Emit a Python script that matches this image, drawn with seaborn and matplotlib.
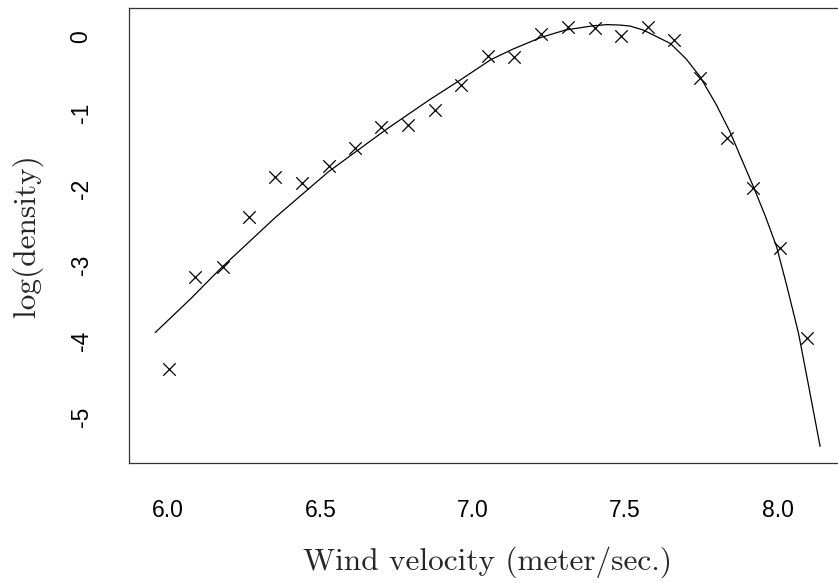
import numpy as np
import pandas as pd
import seaborn as sns
import matplotlib.pyplot as plt

wind_obs = [6.002, 6.090, 6.179, 6.265, 6.352, 6.440, 6.527, 6.612, 6.700, 6.787,
            6.875, 6.962, 7.050, 7.137, 7.225, 7.312, 7.400, 7.487, 7.575, 7.659,
            7.746, 7.834, 7.921, 8.009, 8.096]
logdens_obs = [-4.376, -3.166, -3.030, -2.376, -1.842, -1.920, -1.697, -1.469, -1.184, -1.162,
               -0.964, -0.636, -0.247, -0.262, 0.030, 0.130, 0.110, 0.013, 0.130, -0.043,
               -0.547, -1.329, -1.987, -2.784, -3.968]

# fitted curve
wind_fit = [5.958, 6.073, 6.177, 6.352, 6.527, 6.718, 6.858, 6.957, 7.060,
            7.130, 7.223, 7.305, 7.397, 7.440, 7.483, 7.516, 7.560, 7.648, 7.700,
            7.746, 7.800, 7.844, 7.880, 7.921, 7.960, 7.997, 8.030, 8.069, 8.100, 8.140]
logdens_fit = [-3.895, -3.455, -3.034, -2.380, -1.776, -1.215, -0.830, -0.575, -0.300,
               -0.166, -0.010, 0.090, 0.145, 0.160, 0.154, 0.141, 0.088, -0.087, -0.290,
               -0.526, -0.900, -1.250, -1.590, -1.974, -2.360, -2.763, -3.270, -3.903, -4.550, -5.395]

df_obs = pd.DataFrame({'wind': wind_obs, 'logdens': logdens_obs})
df_fit = pd.DataFrame({'wind': wind_fit, 'logdens': logdens_fit})

sns.set_style('white')
plt.rcParams['font.family'] = ['Liberation Sans', 'DejaVu Sans']

fig = plt.figure(figsize=(8.38, 5.83), dpi=100)
ax = fig.add_axes([0.1536, 0.2053, 0.8567, 0.7818])

sns.lineplot(data=df_fit, x='wind', y='logdens', ax=ax, color='black', linewidth=0.9,
             sort=False)
sns.scatterplot(data=df_obs, x='wind', y='logdens', ax=ax, marker='x', color='black',
                s=80, linewidth=0.9)

ax.set_xlim(5.871, 8.227)
ax.set_ylim(-5.617, 0.385)
ax.set_xticks([6.0, 6.5, 7.0, 7.5, 8.0])
ax.set_xticklabels(['6.0', '6.5', '7.0', '7.5', '8.0'])
ax.set_yticks([-5, -4, -3, -2, -1, 0])
ax.set_yticklabels(['-5', '-4', '-3', '-2', '-1', '0'], rotation=90, va='center')

for sp in ax.spines.values():
    sp.set_color('#333333')
    sp.set_linewidth(0.9)
ax.tick_params(axis='both', direction='out', length=7, width=0.9, color='#333333',
               labelsize=16.5, labelcolor='black')
ax.tick_params(axis='x', pad=19)
ax.tick_params(axis='y', pad=19)

ax.set_xlabel('Wind velocity (meter/sec.)', fontfamily='cmr10', fontsize=22.5, labelpad=17)
ax.set_ylabel('log(density)', fontfamily='cmr10', fontsize=22.5, labelpad=19)

fig.savefig('out.png', dpi=100)
